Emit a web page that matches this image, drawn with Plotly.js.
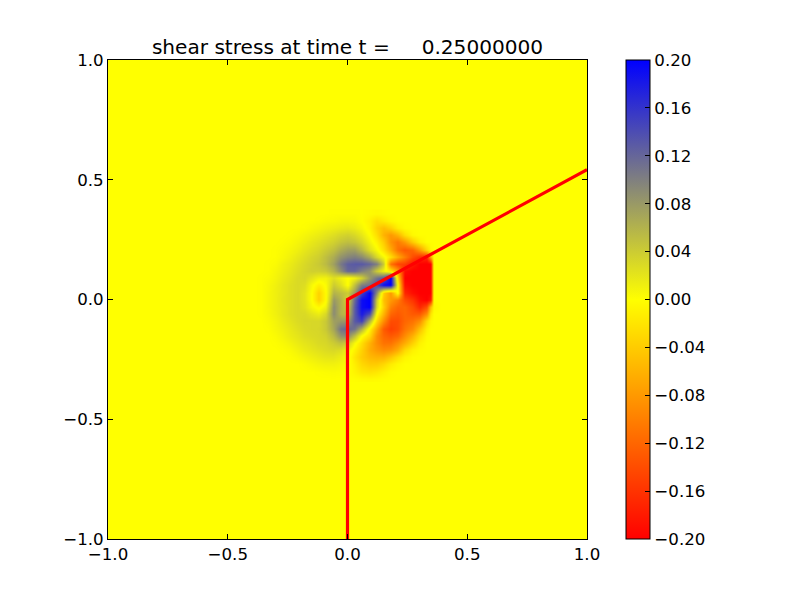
<!DOCTYPE html>
<html>
<head>
<meta charset="utf-8">
<script src="https://cdn.plot.ly/plotly-3.0.1.min.js"></script>
<style>html,body{margin:0;padding:0;background:#fff}</style>
</head>
<body>
<div id="chart" style="width:800px;height:600px"></div>
<script>
const chartTitle = 'shear stress at time t =\u00a0\u00a0\u00a0\u00a0\u00a00.25000000';
const gridX = [-0.39,-0.36,-0.33,-0.30,-0.27,-0.24,-0.21,-0.18,-0.15,-0.12,-0.09,-0.06,-0.03,0,0.03,0.06,0.09,0.12,0.15,0.18,0.21,0.24,0.27,0.30,0.33,0.345,0.36,0.39];
const gridY = [0.36,0.33,0.30,0.27,0.24,0.21,0.18,0.15,0.12,0.09,0.06,0.03,0,-0.03,-0.06,-0.09,-0.12,-0.15,-0.18,-0.21,-0.24,-0.27,-0.30,-0.33];
// shear stress, in hundredths, one row per gridY value
const stressRows = [
[0,0,0,0,0,0,0,0,0,0,0,.1,.1, .1,.1,0,-.2,-.4,-.2,0,0,0,0,0,0,0,0,0],
[0,0,0,0,0,0,0,0,0,.1,.3,.4,.6, .6,.5,0,-1,-2.5,-1.5,-.5,0,0,0,0,0,0,0,0],
[0,0,0,0,0,0,0,.1,.4,.7,1,1.3,1.6, 1.8,1.4,.6,-.8,-3.5,-5,-3.5,-1.2,-.2,0,0,0,0,0,0],
[0,0,0,0,0,.1,.3,.7,1.1,1.5,2,2.6,3.2, 3.6,3,1.8,0,-2.5,-6,-8,-6,-2.5,-.4,0,0,0,0,0],
[0,0,0,0,.1,.3,.7,1.2,1.8,2.3,2.9,3.6,4.5, 5,4.5,3.2,1,-1,-4,-8.5,-10.5,-8,-4,-1.2,0,0,0,0],
[0,0,0,.1,.3,.7,1.2,1.9,2.5,3.1,4,5,6.5, 7.5,7.5,5.5,2.5,.5,-2.5,-6.5,-11,-13,-12,-8,-3,-.5,0,0],
[0,0,0,.1,.5,1.1,1.8,2.5,3.2,3.8,5,6.5,8.5, 9.5,10,9,6.5,3,.6,-2.5,-6.5,-10,-14,-16,-17,-6,0,0],
[0,0,.1,.3,1,1.6,2.3,3,3.6,4.2,5.3,7.5,10.5, 12.5,13,13,12,10,4,-11,-14.5,-15,-18,-20,-20,-20,0,0],
[0,0,.1,.6,1.2,1.9,2.6,3.2,3.7,3.7,4.2,6,9, 12,12,10,8.5,4,1,-2,-8,-19,-20,-20,-20,-20,0,0],
[0,.1,.3,.8,1.5,2.2,2.9,3.1,2.1,1.1,1,2.5,1.2, 0,1.2,3.5,8,11,13,20,-3,-20,-20,-20,-20,-20,0,0],
[0,.1,.5,1.1,1.8,2.5,2.9,2.6,.5,-1.2,.2,4,2.5, 0,5,10,11,14,19,20,0,-19,-20,-20,-20,-20,0,0],
[0,.1,.6,1.2,1.8,2.5,2.9,2.1,0,-3.5,-.3,6,5, 4,8,15,20,9,-4,-8,0,-17,-19,-20,-20,-20,0,0],
[0,.1,.6,1.2,1.9,2.5,2.9,2.1,0,-3.5,-.3,8,6, 3,12,19,20,4,-5,-8,-10,-14,-16,-19,-20,-18,0,0],
[0,.1,.6,1.2,1.8,2.5,2.9,2.3,.6,-.5,1,9,6, 4,13,19,20,3,-4,-10,-12,-12,-14,-17,-14,-5,-.5,0],
[0,.1,.5,1.1,1.8,2.5,2.9,2.9,2.1,1.4,3,9,6, 5,13,18,14,0,-6,-12,-13,-12,-13,-13,-9,-2,0,0],
[0,0,.3,.8,1.5,2.2,2.8,3.1,3.1,3.1,4.2,7.5,8, 8,13,15,6,-3,-9,-14,-14,-12,-11,-9,-3,-.5,0,0],
[0,0,.1,.6,1.1,1.8,2.4,2.9,3.1,3.2,4.2,7,11, 12,11,6,-1,-7,-13,-15,-14,-11,-9,-5,-1,0,0,0],
[0,0,0,.3,.8,1.5,2,2.6,2.9,3.1,3.5,5.5,8.5, 9,5,0,-3,-9,-12,-13,-12,-9,-6,-2.5,-.3,0,0,0],
[0,0,0,.1,.4,.9,1.5,2,2.4,2.9,3.1,4,5, 4,.5,-2.5,-6,-9,-11,-11,-9,-6.5,-3.5,-1,0,0,0,0],
[0,0,0,0,.1,.4,.9,1.5,1.9,2.3,2.7,3,2.6, 1.2,-1,-3.5,-6.5,-8,-9,-8.5,-6.5,-3,-1,-.2,0,0,0,0],
[0,0,0,0,0,.1,.4,.8,1.2,1.6,1.9,2,1.4, .6,-2,-4,-5.5,-6,-6,-4.5,-2.5,-.8,-.1,0,0,0,0,0],
[0,0,0,0,0,0,0,.2,.5,.8,1,1,.7, .3,-1.2,-3,-4,-4,-3,-1.5,-.5,0,0,0,0,0,0,0],
[0,0,0,0,0,0,0,0,0,.1,.2,.3,.2, 0,-.8,-1.8,-2.2,-1.8,-1,-.2,0,0,0,0,0,0,0,0],
[0,0,0,0,0,0,0,0,0,0,0,0,0, 0,-.1,-.3,-.4,-.3,-.1,0,0,0,0,0,0,0,0,0]
];
const lineX = [0, 0, 1];
const lineY = [-1, 0, 0.5417];
const axisTicks = [-1, -0.5, 0, 0.5, 1];
const xTickText = ['\u22121.0','\u22120.5','0.0','0.5','1.0'];
const yTickText = ['\u22121.0','\u22120.5','0.0','0.5','1.0'];
const barTicks = [-0.20,-0.16,-0.12,-0.08,-0.04,0,0.04,0.08,0.12,0.16,0.20];
const barText = ['\u22120.20','\u22120.16','\u22120.12','\u22120.08','\u22120.04','0.00','0.04','0.08','0.12','0.16','0.20'];

const font = 'DejaVu Sans';
const axis = (text) => ({
  range: [-1, 1], tickmode: 'array', tickvals: axisTicks, ticktext: text,
  ticks: 'inside', ticklen: 5, tickwidth: 1, tickcolor: '#000',
  showline: true, linecolor: '#000', linewidth: 1, mirror: 'ticks',
  showgrid: false, zeroline: false, tickfont: {family: font, size: 16.67, color: '#000'}
});
Plotly.newPlot('chart', [
  {type: 'heatmap', x: gridX, y: gridY, z: stressRows.map(r => r.map(v => v / 100)),
   zmin: -0.2, zmax: 0.2, zsmooth: 'best', hoverinfo: 'skip',
   colorscale: [[0, '#ff0000'], [0.5, '#ffff00'], [1, '#0000ff']],
   colorbar: {x: 1.08125, xanchor: 'left', xref: 'paper', y: 0.5, yanchor: 'middle', len: 1, lenmode: 'fraction',
     thickness: 24, thicknessmode: 'pixels', xpad: 0, ypad: 0, outlinecolor: '#000', outlinewidth: 1,
     tickmode: 'array', tickvals: barTicks, ticktext: barText, ticks: 'inside', ticklen: 5, tickwidth: 1, tickcolor: '#000',
     tickfont: {family: font, size: 16.67, color: '#000'}}},
  {type: 'scatter', mode: 'lines', x: lineX, y: lineY, line: {color: '#ff0000', width: 3.2}, hoverinfo: 'skip', showlegend: false}
], {
  width: 800, height: 600, showlegend: false,
  margin: {l: 107.5, r: 212.5, t: 59.5, b: 60.5, pad: 0},
  paper_bgcolor: '#fff', plot_bgcolor: '#ffff00',
  title: {text: chartTitle, x: 0.5, xref: 'paper', xanchor: 'center', y: 0.9105, yref: 'container', yanchor: 'bottom',
          font: {family: font, size: 20.1, color: '#000'}},
  xaxis: axis(xTickText),
  yaxis: axis(yTickText)
}, {displayModeBar: false, staticPlot: true});
</script>
</body>
</html>
